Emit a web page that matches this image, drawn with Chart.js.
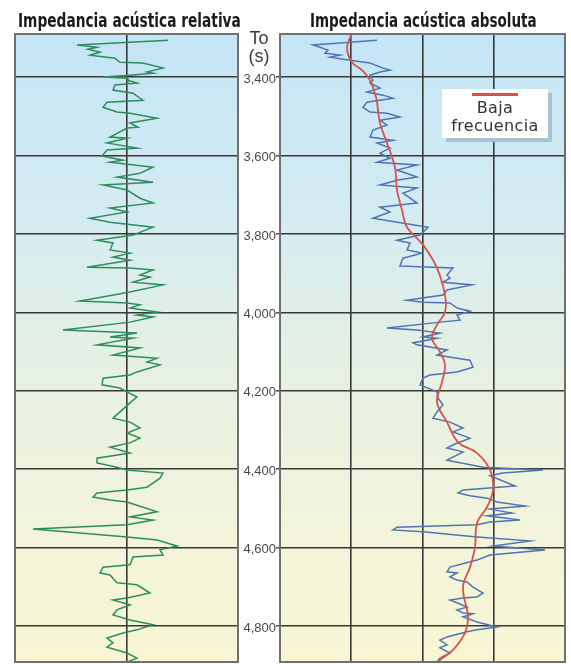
<!DOCTYPE html>
<html>
<head>
<meta charset="utf-8">
<script src="https://cdn.jsdelivr.net/npm/chart.js@4.4.0/dist/chart.umd.min.js"></script>
<style>
  html, body { margin: 0; padding: 0; background: #fff; }
  #page { position: relative; width: 571px; height: 664px; overflow: hidden; }
  .box { position: absolute; top: 0; }
  .title {
    position: absolute; top: 9px; white-space: nowrap; transform-origin: left top;
    font-family: "Liberation Sans Narrow", "DejaVu Sans Condensed", sans-serif;
    font-weight: bold; font-size: 20px; line-height: 22px; color: #1b1b1b;
  }
  #unit {
    position: absolute; left: 239px; top: 29px; width: 40px; text-align: center;
    font-family: "Liberation Sans", Arial, sans-serif; font-size: 18px; line-height: 18px; color: #3c3c3c;
  }
  #legend {
    position: absolute; left: 442px; top: 89px; width: 106px; height: 49px;
    background: #fff; box-shadow: 4px 4px 0 #a9c2cf;
    font-family: "DejaVu Sans", sans-serif; font-size: 16px; letter-spacing: 0.4px; color: #333; text-align: center;
  }
  #legend .swatch { position: absolute; left: 30px; top: 4px; width: 46px; height: 3px; background: #d8504a; }
  #legend .txt { position: absolute; left: 0; right: 0; top: 10px; line-height: 18px; }
</style>
</head>
<body>
<div id="page">
  <div class="box" style="left:0;width:240px;height:664px"><canvas id="rel" width="240" height="664"></canvas></div>
  <div class="box" style="left:240px;width:331px;height:664px"><canvas id="abs" width="331" height="664"></canvas></div>
  <div class="title" id="t1">Impedancia acústica relativa</div>
  <div class="title" id="t2">Impedancia acústica absoluta</div>
  <div id="unit">To<br>(s)</div>
  <div id="legend"><div class="swatch"></div><div class="txt">Baja<br>frecuencia</div></div>
</div>
<script>
// two-way time (ms), shared vertical axis
const timeMin = 3290;
const timeMax = 4892;
const timeTicks = [3400, 3600, 3800, 4000, 4200, 4400, 4600, 4800];

// relative acoustic impedance (green trace)
const relTime = [3306,3318,3324,3329,3336,3344,3352,3362,3364,3377,3387,3390,3395,3400,3403,3408,3415,3420,3433,3441,
  3459,3464,3477,3489,3492,3505,3517,3528,3530,3553,3556,3568,3581,3586,3601,3612,3617,3630,3645,3655,
  3668,3675,3688,3709,3721,3734,3744,3760,3770,3783,3803,3816,3823,3841,3849,3859,3867,3885,3887,3892,
  3905,3910,3923,3930,3948,3971,3976,3981,3989,3999,4007,4012,4025,4045,4050,4053,4063,4066,4083,4091,
  4109,4117,4127,4134,4152,4160,4168,4185,4193,4203,4216,4231,4254,4270,4280,4295,4308,4321,4333,4344,
  4359,4372,4384,4395,4402,4410,4423,4446,4453,4461,4471,4479,4484,4509,4522,4530,4542,4553,4573,4581,
  4596,4606,4619,4624,4644,4650,4665,4670,4690,4695,4716,4729,4734,4746,4759,4772,4785,4797,4810,4818,
  4831,4843,4854,4869,4882,4892];
const relValue = [0.41,-0.50,-0.30,-0.39,-0.27,-0.37,-0.12,-0.07,0.16,0.36,0.20,0.26,0.03,-0.24,0.00,0.01,0.10,-0.12,-0.14,0.06,
  0.16,-0.20,-0.24,-0.10,0.03,0.30,0.03,0.11,0.00,-0.17,0.00,-0.20,0.10,-0.20,-0.25,-0.04,-0.17,0.26,0.13,-0.10,
  0.26,-0.24,0.00,0.13,0.26,-0.17,0.00,-0.37,-0.17,0.26,0.06,-0.30,-0.14,-0.17,0.03,-0.14,0.03,-0.40,0.03,0.26,
  0.13,0.23,0.06,0.36,0.03,-0.47,0.00,0.13,0.03,0.30,0.10,0.26,0.03,-0.64,-0.14,0.10,-0.17,0.06,-0.30,0.13,
  -0.14,0.30,0.20,0.33,0.10,0.03,-0.24,-0.25,-0.07,0.00,0.10,0.03,-0.07,-0.14,0.03,0.13,0.00,0.13,0.03,-0.17,
  0.03,-0.30,-0.30,-0.10,0.00,0.36,0.33,0.20,0.00,-0.30,-0.34,-0.17,0.00,0.30,0.03,0.26,0.00,-0.94,0.00,0.30,
  0.50,0.33,0.36,0.06,0.03,-0.24,-0.27,-0.17,-0.10,0.10,0.23,0.00,-0.14,0.03,-0.10,-0.14,0.03,0.26,0.10,-0.04,
  -0.20,-0.14,-0.20,0.00,0.10,0.00];

// absolute acoustic impedance (blue trace)
const absTime = [3306,3311,3318,3331,3339,3344,3349,3357,3364,3377,3382,3387,3395,3408,3415,3428,3438,3446,3454,3464,
  3477,3489,3492,3502,3510,3522,3535,3553,3561,3568,3581,3594,3607,3617,3624,3637,3655,3663,3675,3683,
  3696,3721,3732,3744,3760,3783,3803,3816,3823,3841,3849,3862,3882,3887,3905,3913,3923,3930,3943,3956,
  3969,3974,3976,3989,3997,4007,4020,4025,4040,4045,4053,4063,4066,4078,4083,4096,4109,4117,4122,4140,
  4152,4160,4168,4185,4203,4219,4236,4254,4270,4280,4295,4305,4321,4336,4346,4356,4377,4395,4402,4410,
  4417,4443,4453,4461,4468,4474,4484,4494,4502,4512,4519,4530,4535,4542,4548,4555,4560,4573,4583,4596,
  4606,4619,4632,4650,4662,4665,4675,4683,4688,4701,4716,4726,4729,4734,4741,4752,4759,4767,4769,4777,
  4790,4803,4810,4815,4828,4836,4848,4856,4869,4882,4892];
const absValue = [4970,4700,4330,4480,4450,4600,4500,4700,4900,5030,5100,5000,4900,4930,4900,5000,4870,5030,5130,4870,
  4830,4900,5070,5200,5000,5070,4930,4900,5130,4970,5100,5000,5100,4970,5370,5170,5370,5170,5000,5370,
  5230,5370,5000,5100,4930,5480,5400,5170,5300,5270,5420,5230,5200,5730,5670,5700,5630,5920,5670,5630,
  5270,5430,5700,5770,5900,5770,5800,5600,5070,5370,5600,5430,5570,5330,5370,5670,5570,5770,5900,5930,
  5770,5500,5430,5400,5570,5580,5630,5570,5530,5700,5830,5730,5900,5750,5670,5830,5670,6030,6630,6230,
  6100,6350,5830,5780,5900,6070,6170,6450,6100,6320,6070,6400,6100,5970,5170,5130,5430,5970,6500,6130,
  6650,6100,5970,5700,5670,5770,5700,5770,5870,5930,6030,5970,5830,5700,5770,5870,5770,5830,5930,5830,
  5970,6170,5970,5870,5670,5600,5670,5600,5700,5600,5570];

// low-frequency trend (red)
const lowTime = [3293,3326,3362,3382,3408,3451,3517,3568,3630,3688,3739,3783,3828,3887,3956,3999,4032,4066,4101,4134,
  4178,4229,4280,4331,4359,4402,4453,4497,4537,4599,4650,4701,4777,4818,4861,4892];
const lowValue = [4710,4670,4720,4820,4900,4960,5000,5070,5150,5170,5220,5270,5430,5570,5650,5650,5570,5520,5600,5650,
  5620,5570,5670,5780,5970,6100,6130,6070,5970,5950,5900,5830,5880,5850,5730,5570];

const relMin = -1.12, relMax = 1.11;
const absMin = 4000, absMax = 6850;

const bgStops = [[0, "#c4e5f6"], [0.3, "#d4ecf1"], [0.55, "#e7f1e2"], [0.78, "#f2f4da"], [1, "#f8f6d3"]];

const toPoints = (t, v) => t.map((y, i) => ({ x: v[i], y: y }));

// panel fill and frame
const panelPlugin = {
  id: "panel",
  beforeDraw(chart) {
    const { ctx, chartArea: a } = chart;
    const g = ctx.createLinearGradient(0, a.top, 0, a.bottom);
    bgStops.forEach(([p, c]) => g.addColorStop(p, c));
    ctx.save();
    ctx.fillStyle = g;
    ctx.fillRect(a.left, a.top, a.right - a.left, a.bottom - a.top);
    ctx.restore();
  },
  afterDraw(chart) {
    const { ctx, chartArea: a } = chart;
    ctx.save();
    ctx.strokeStyle = "#707070";
    ctx.lineWidth = 2;
    ctx.strokeRect(a.left, a.top, a.right - a.left, a.bottom - a.top);
    ctx.restore();
  }
};

const gridStyle = { color: "#383838", lineWidth: 1.6, drawTicks: false };

const hiddenX = (min, max, lines) => ({
  type: "linear", position: "bottom", min: min, max: max,
  afterBuildTicks: s => { s.ticks = lines.map(v => ({ value: v })); },
  afterFit: s => { s.height = 0; },
  border: { display: false },
  grid: gridStyle,
  ticks: { display: false }
});

new Chart(document.getElementById("rel"), {
  type: "scatter",
  plugins: [panelPlugin],
  data: {
    datasets: [{
      data: toPoints(relTime, relValue),
      showLine: true, borderColor: "#2f8d5c", borderWidth: 1.5, pointRadius: 0, tension: 0
    }]
  },
  options: {
    responsive: false, animation: false,
    layout: { padding: { left: 15, right: 2, top: 34, bottom: 2 } },
    plugins: { legend: { display: false }, tooltip: { enabled: false } },
    scales: {
      x: hiddenX(relMin, relMax, [0]),
      y: {
        type: "linear", reverse: true, min: timeMin, max: timeMax,
        afterBuildTicks: s => { s.ticks = timeTicks.map(v => ({ value: v })); },
        afterFit: s => { s.width = 0; s.paddingTop = 0; s.paddingBottom = 0; },
        border: { display: false },
        grid: gridStyle,
        ticks: { display: false }
      }
    }
  }
});

const q = (absMax - absMin) / 4;
new Chart(document.getElementById("abs"), {
  type: "scatter",
  plugins: [panelPlugin],
  data: {
    datasets: [
      {
        label: "Baja frecuencia",
        data: toPoints(lowTime, lowValue),
        showLine: true, borderColor: "#d9524c", borderWidth: 1.8, pointRadius: 0, tension: 0.4, order: 0
      },
      {
        data: toPoints(absTime, absValue),
        showLine: true, borderColor: "#4f74b4", borderWidth: 1.5, pointRadius: 0, tension: 0, order: 1
      }
    ]
  },
  options: {
    responsive: false, animation: false,
    layout: { padding: { left: 0, right: 6, top: 34, bottom: 2 } },
    plugins: { legend: { display: false }, tooltip: { enabled: false } },
    scales: {
      x: hiddenX(absMin, absMax, [absMin + q, absMin + 2 * q, absMin + 3 * q]),
      y: {
        type: "linear", reverse: true, min: timeMin, max: timeMax,
        afterBuildTicks: s => { s.ticks = timeTicks.map(v => ({ value: v })); },
        afterFit: s => { s.width = 40; s.paddingTop = 0; s.paddingBottom = 0; },
        border: { display: false },
        grid: { color: "#383838", lineWidth: 1.6, drawTicks: true, tickLength: 4, tickColor: "#555" },
        ticks: {
          padding: 0, labelOffset: 2, color: "#4a4a4a",
          font: { family: "Liberation Sans", size: 13 },
          callback: v => v.toLocaleString("en-US")
        }
      }
    }
  }
});

// squeeze the panel titles to the panel width
function fitTitle(id, left, width) {
  const el = document.getElementById(id);
  el.style.left = left + "px";
  el.style.transform = "scaleX(" + (width / el.offsetWidth) + ")";
}
fitTitle("t1", 18, 223);
fitTitle("t2", 310, 227);
</script>
</body>
</html>
